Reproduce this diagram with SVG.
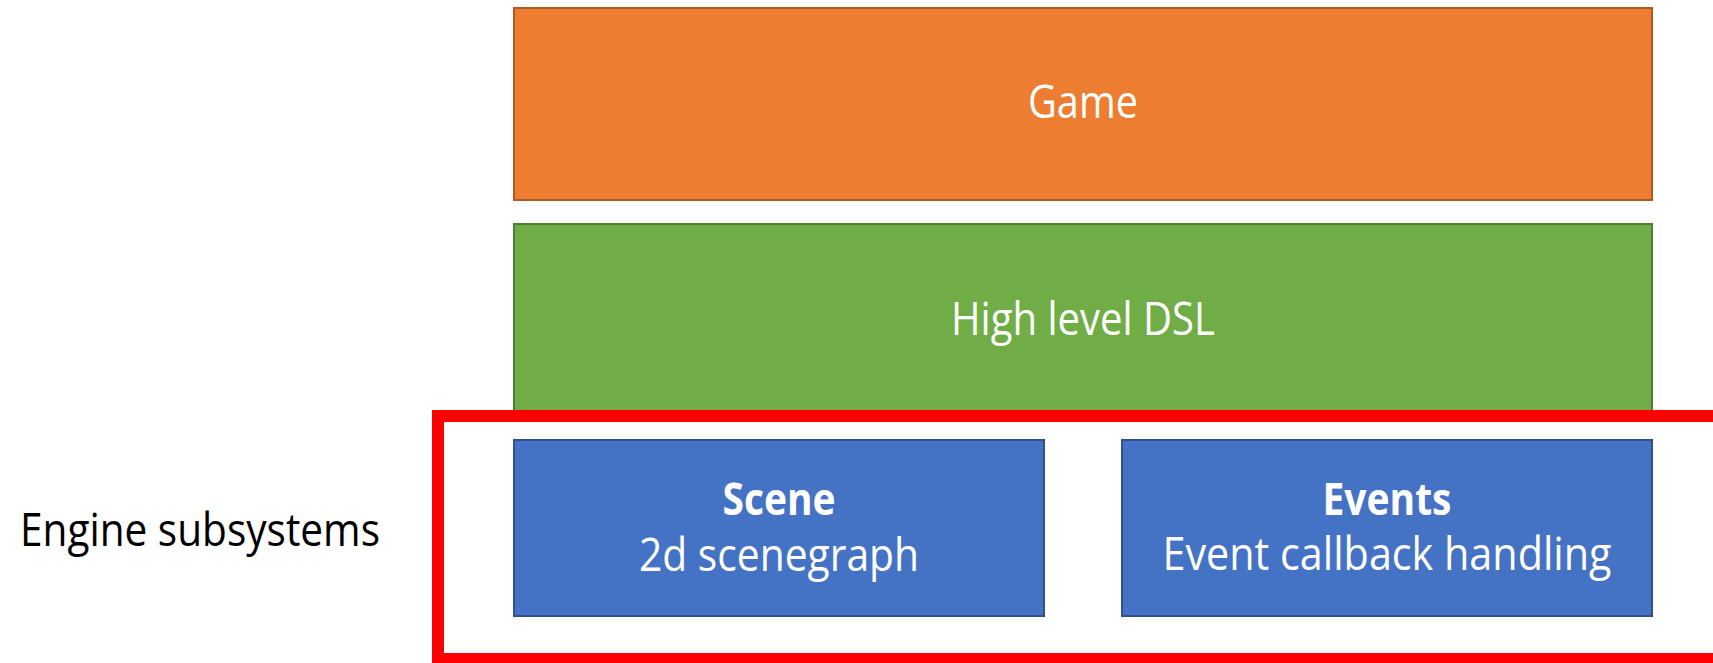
<svg xmlns="http://www.w3.org/2000/svg" width="1713" height="663" viewBox="0 0 1713 663">
<style>
  text { font-family: "Open Sans", "Noto Sans", "Liberation Sans", sans-serif; font-size: 45px; }
  .w { fill: #FFFFFF; text-anchor: middle; }
  .b { font-weight: bold; }
  .orange { fill: #ED7D31; stroke: #AE5A21; stroke-width: 2; }
  .green { fill: #70AD47; stroke: #507E32; stroke-width: 2; }
  .blue { fill: #4472C4; stroke: #2F528F; stroke-width: 2; }
</style>
<rect width="1713" height="663" fill="#FFFFFF"/>
<g id="game">
  <rect class="orange" x="514" y="8" width="1138" height="192"/>
  <text class="w" x="1083" y="118" textLength="110" lengthAdjust="spacingAndGlyphs">Game</text>
</g>
<g id="dsl">
  <rect class="green" x="514" y="224" width="1138" height="196"/>
  <text class="w" x="1083" y="335" textLength="264" lengthAdjust="spacingAndGlyphs">High level DSL</text>
</g>
<g id="engine-group">
  <rect x="438" y="416" width="1290" height="243" fill="none" stroke="#FF0000" stroke-width="12"/>
  <text x="20" y="546" fill="#000000" textLength="360" lengthAdjust="spacingAndGlyphs">Engine subsystems</text>
</g>
<g id="scene">
  <rect class="blue" x="514" y="440" width="530" height="176"/>
  <text class="w b" x="779" y="515" textLength="113" lengthAdjust="spacingAndGlyphs">Scene</text>
  <text class="w" x="779" y="571" textLength="280" lengthAdjust="spacingAndGlyphs">2d scenegraph</text>
</g>
<g id="events">
  <rect class="blue" x="1122" y="440" width="530" height="176"/>
  <text class="w b" x="1387" y="515" textLength="129" lengthAdjust="spacingAndGlyphs">Events</text>
  <text class="w" x="1387" y="570" textLength="449" lengthAdjust="spacingAndGlyphs">Event callback handling</text>
</g>
<g id="connectors"></g>
</svg>
